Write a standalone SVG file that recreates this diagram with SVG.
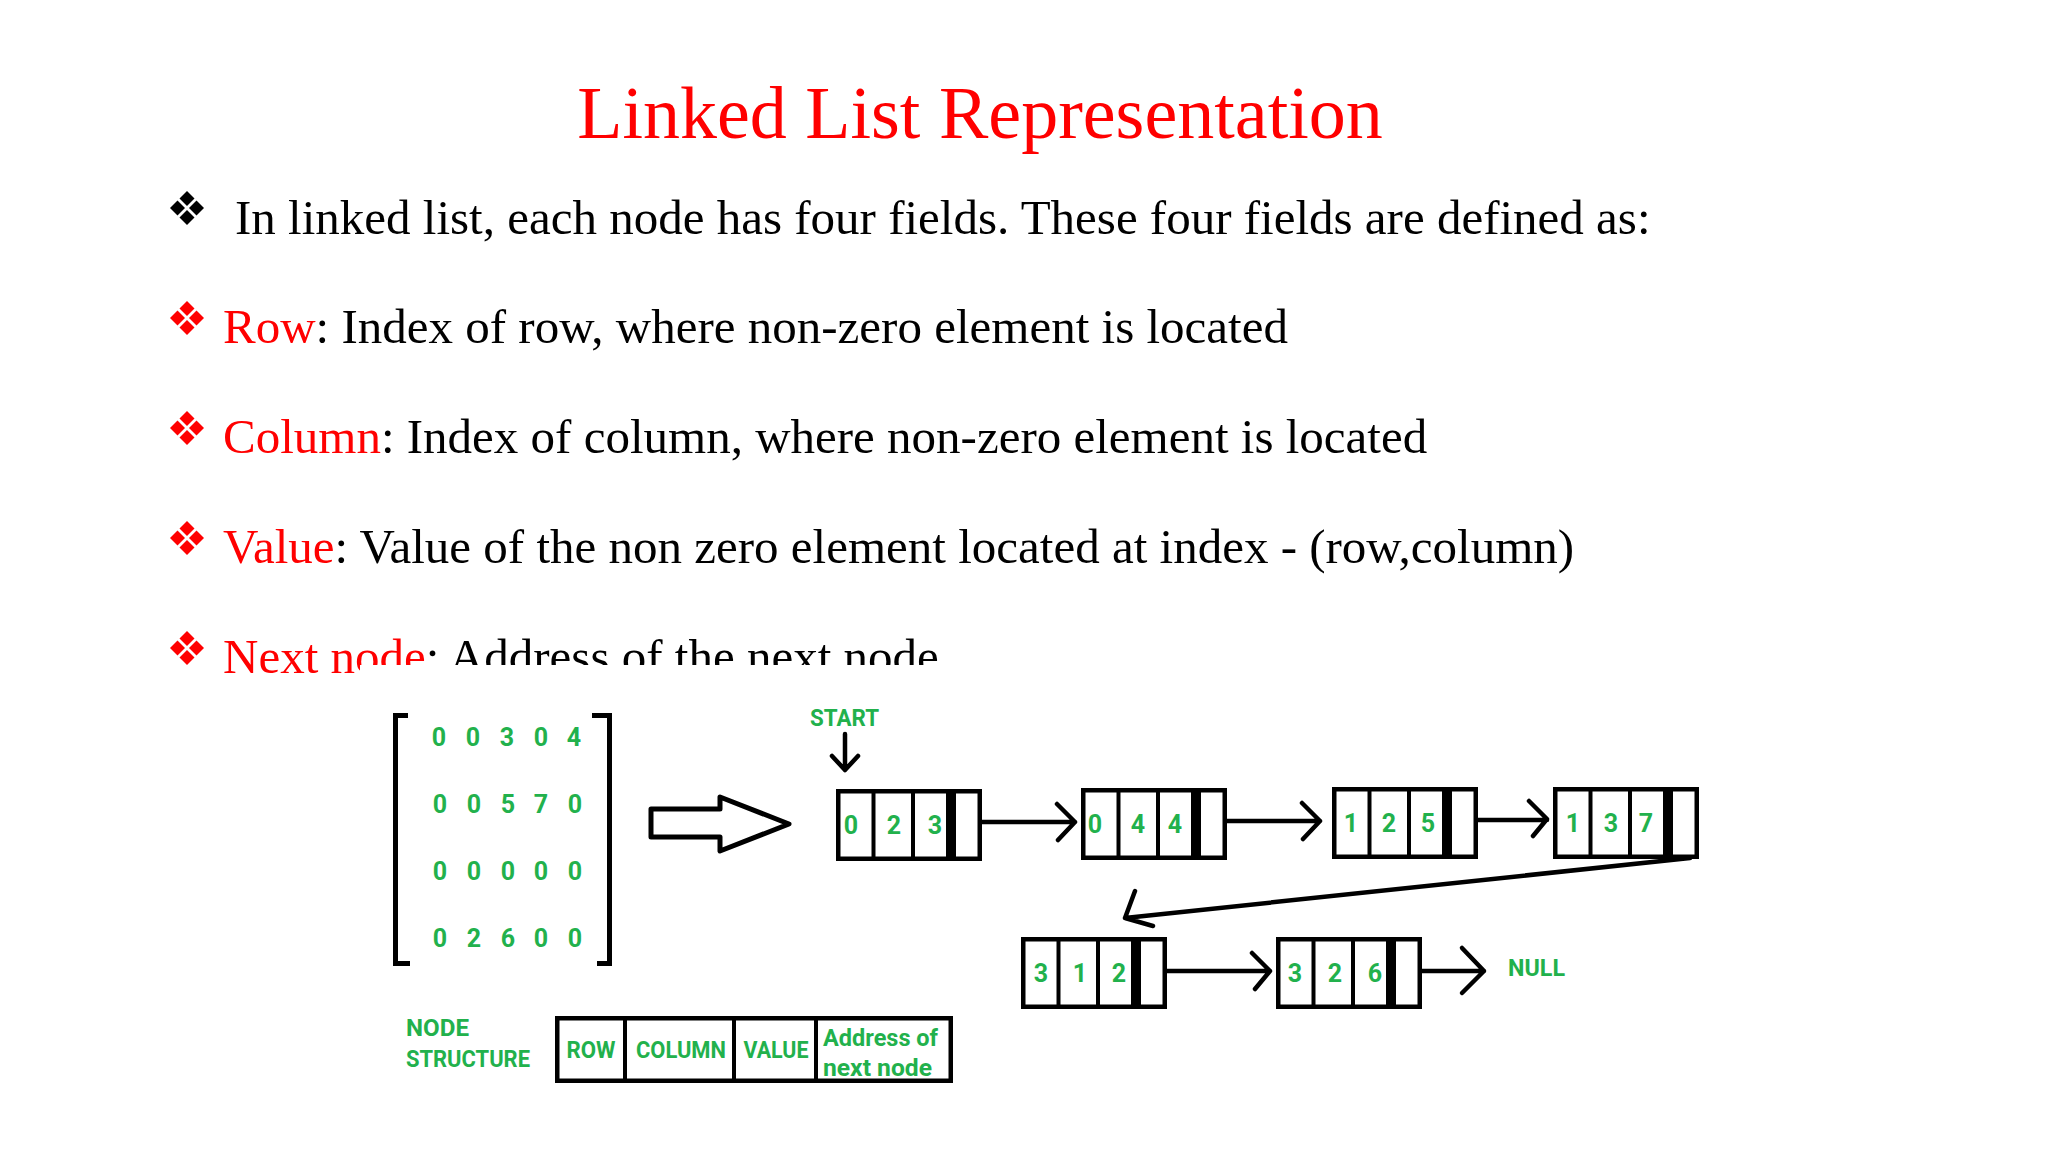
<svg xmlns="http://www.w3.org/2000/svg" width="2048" height="1152" viewBox="0 0 2048 1152">
<style>
.serif{font-family:"Liberation Serif","Times New Roman",serif;}
.title{font-size:74px;fill:#ff0000;}
.body{font-size:49px;fill:#000000;}
.red{fill:#ff0000;}
.g{font-family:Roboto,"Liberation Sans",sans-serif;font-weight:bold;fill:#22b14c;}
.dig{font-size:25px;text-anchor:middle;}
.lbl{font-size:23px;}
.box{fill:#ffffff;stroke:#000000;stroke-width:4.5;}
.div{stroke:#000000;stroke-width:4;}
.bar{fill:#000000;}
.ln{fill:none;stroke:#000000;stroke-width:4.5;stroke-linecap:round;stroke-linejoin:round;}
.blk{fill:#000000;}
</style>
<defs>
<g id="bul">
<polygon points="0,-17 7.5,-9.5 0,-2 -7.5,-9.5"/>
<polygon points="-9.5,-7.5 -2,0 -9.5,7.5 -17,0"/>
<polygon points="9.5,-7.5 17,0 9.5,7.5 2,0"/>
<polygon points="0,2 7.5,9.5 0,17 -7.5,9.5"/>
</g>
<g id="cells">
<rect class="box" x="2.25" y="2.25" width="141.5" height="67.5"/>
<line class="div" x1="37.5" y1="0" x2="37.5" y2="72"/>
<line class="div" x1="77" y1="0" x2="77" y2="72"/>
<rect class="bar" x="110" y="0" width="10" height="72"/>
</g>
<clipPath id="cut"><path d="M0,0H2048V665H360V1152H0Z"/></clipPath>
</defs>
<rect x="0" y="0" width="2048" height="1152" fill="#ffffff"/>

<g id="slide-text" class="serif">
<text class="title" x="980" y="138" text-anchor="middle">Linked List Representation</text>
<use href="#bul" x="187" y="208" fill="#000000"/>
<text class="body" x="235" y="234">In linked list, each node has four fields. These four fields are defined as:</text>
<use href="#bul" x="187" y="318" fill="#ff0000"/>
<text class="body" x="223" y="343"><tspan class="red">Row</tspan>: Index of row, where non-zero element is located</text>
<use href="#bul" x="187" y="428" fill="#ff0000"/>
<text class="body" x="223" y="453"><tspan class="red">Column</tspan>: Index of column, where non-zero element is located</text>
<use href="#bul" x="187" y="538" fill="#ff0000"/>
<text class="body" x="223" y="563"><tspan class="red">Value</tspan>: Value of the non zero element located at index - (row,column)</text>
<use href="#bul" x="187" y="648" fill="#ff0000"/>
<text class="body" x="223" y="673" clip-path="url(#cut)"><tspan class="red">Next node</tspan>: Address of the next node</text>
</g>

<g id="matrix">
<path class="blk" d="M393,713H408V718H398V961H410V966H393Z"/>
<path class="blk" d="M592,713H612V966H597V961H607V718H592Z"/>
<g class="g dig">
<text x="439" y="746">0</text><text x="473" y="746">0</text><text x="507" y="746">3</text><text x="541" y="746">0</text><text x="574" y="746">4</text>
<text x="440" y="813">0</text><text x="474" y="813">0</text><text x="508" y="813">5</text><text x="541" y="813">7</text><text x="575" y="813">0</text>
<text x="440" y="880">0</text><text x="474" y="880">0</text><text x="508" y="880">0</text><text x="541" y="880">0</text><text x="575" y="880">0</text>
<text x="440" y="947">0</text><text x="474" y="947">2</text><text x="508" y="947">6</text><text x="541" y="947">0</text><text x="575" y="947">0</text>
</g>
</g>

<g id="convert-arrow">
<polygon points="651,809 720,809 720,797 789,824 720,851 720,837 651,837" fill="#ffffff" stroke="#000000" stroke-width="5" stroke-linejoin="round"/>
</g>

<g id="start-label">
<text class="g lbl" x="810" y="726" textLength="69" lengthAdjust="spacingAndGlyphs">START</text>
</g>

<g id="node1" transform="translate(836,789)">
<use href="#cells"/>
<g class="g dig"><text x="15" y="45">0</text><text x="58" y="45">2</text><text x="99" y="45">3</text></g>
</g>
<g id="node2" transform="translate(1081,788)">
<use href="#cells"/>
<g class="g dig"><text x="14" y="45">0</text><text x="57" y="45">4</text><text x="94" y="45">4</text></g>
</g>
<g id="node3" transform="translate(1332,787)">
<use href="#cells"/>
<g class="g dig"><text x="19" y="45">1</text><text x="57" y="45">2</text><text x="96" y="45">5</text></g>
</g>
<g id="node4" transform="translate(1553,787)">
<use href="#cells"/>
<g class="g dig"><text x="20" y="45">1</text><text x="58" y="45">3</text><text x="93" y="45">7</text></g>
</g>
<g id="node5" transform="translate(1021,937)">
<use href="#cells"/>
<g class="g dig"><text x="20" y="45">3</text><text x="59" y="45">1</text><text x="98" y="45">2</text></g>
</g>
<g id="node6" transform="translate(1276,937)">
<use href="#cells"/>
<g class="g dig"><text x="19" y="45">3</text><text x="59" y="45">2</text><text x="99" y="45">6</text></g>
</g>

<g id="null-label">
<text class="g lbl" x="1508" y="976" textLength="57" lengthAdjust="spacingAndGlyphs">NULL</text>
</g>

<g id="connectors">
<path class="ln" d="M845,734V770M832,756L845,770L858,756"/>
<path class="ln" d="M982,822H1075M1057,804L1075,822L1058,840"/>
<path class="ln" d="M1227,821H1320M1302,803L1320,821L1303,839"/>
<path class="ln" d="M1478,820H1547M1529,801L1547,819L1533,836"/>
<path class="ln" d="M1690,858L1125,918M1135,891L1125,918L1153,926" stroke-width="5"/>
<path class="ln" d="M1167,971H1270M1252,953L1270,971L1255,989"/>
<path class="ln" d="M1422,971H1484M1462,948L1484,971L1462,993"/>
</g>

<g id="node-structure">
<text class="g lbl" x="406" y="1036" textLength="63" lengthAdjust="spacingAndGlyphs">NODE</text>
<text class="g lbl" x="406" y="1067" textLength="124" lengthAdjust="spacingAndGlyphs">STRUCTURE</text>
<rect class="box" x="557.25" y="1018.25" width="393.5" height="62.5"/>
<line class="div" x1="625" y1="1016" x2="625" y2="1083"/>
<line class="div" x1="734" y1="1016" x2="734" y2="1083"/>
<line class="div" x1="816" y1="1016" x2="816" y2="1083"/>
<text class="g lbl" x="591" y="1058" text-anchor="middle" textLength="49" lengthAdjust="spacingAndGlyphs">ROW</text>
<text class="g lbl" x="681" y="1058" text-anchor="middle" textLength="90" lengthAdjust="spacingAndGlyphs">COLUMN</text>
<text class="g lbl" x="776" y="1058" text-anchor="middle" textLength="65" lengthAdjust="spacingAndGlyphs">VALUE</text>
<text class="g lbl" x="823" y="1046" textLength="115" lengthAdjust="spacingAndGlyphs">Address of</text>
<text class="g lbl" x="823" y="1076" textLength="109" lengthAdjust="spacingAndGlyphs">next node</text>
</g>
</svg>
